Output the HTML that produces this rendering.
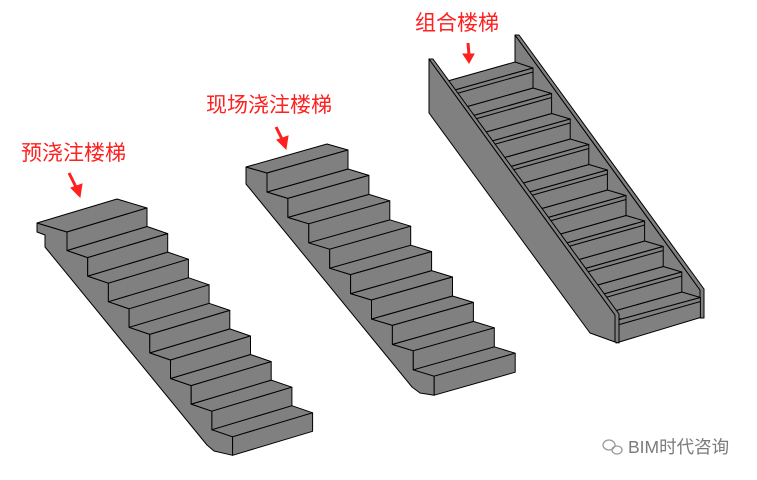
<!DOCTYPE html>
<html><head><meta charset="utf-8"><style>
html,body{margin:0;padding:0;background:#fff;width:757px;height:480px;overflow:hidden}
svg{display:block}
.lab{font-family:"Liberation Sans","Noto Sans CJK SC",sans-serif;fill:#ff2020;font-size:21px}
.wm{font-family:"Liberation Sans","Noto Sans CJK SC",sans-serif;fill:#7a7a7a;font-size:17.5px}
</style></head><body>
<svg id="s" width="757" height="480" viewBox="0 0 757 480" xmlns="http://www.w3.org/2000/svg">
<g id="g" fill="#808080" stroke="#000" stroke-width="1" stroke-linejoin="round"></g>
<text class="lab" x="21" y="160">预浇注楼梯</text>
<text class="lab" x="206" y="112">现场浇注楼梯</text>
<text class="lab" x="415" y="30">组合楼梯</text>
<g fill="#ff2020" stroke="#ff2020">
<line x1="69" y1="173" x2="77" y2="189" stroke-width="3"/><polygon points="71,188 82,184 80,197"/>
<line x1="276" y1="127" x2="283" y2="141" stroke-width="3"/><polygon points="277,140 288,136 286,149"/>
<line x1="468" y1="43" x2="469" y2="55" stroke-width="3"/><polygon points="463,54 474,54 469,63"/>
</g>
<g fill="none" stroke="#9a9a9a" stroke-width="1.3">
<ellipse cx="609" cy="445" rx="6" ry="5"/><ellipse cx="617" cy="450" rx="5" ry="4"/>
</g>
<text class="wm" x="628" y="453">BIM时代咨询</text>
</svg>
<script>
var g=document.getElementById('g');
function P(pts,fill){var e=document.createElementNS('http://www.w3.org/2000/svg','polygon');
e.setAttribute('points',pts.map(function(p){return p[0].toFixed(1)+','+p[1].toFixed(1)}).join(' '));
if(fill)e.setAttribute('fill',fill);g.appendChild(e);}
function L(a,b){var e=document.createElementNS('http://www.w3.org/2000/svg','line');
e.setAttribute('x1',a[0]);e.setAttribute('y1',a[1]);e.setAttribute('x2',b[0]);e.setAttribute('y2',b[1]);g.appendChild(e);}
function add(a,b){return [a[0]+b[0],a[1]+b[1]];}
function sub(a,b){return [a[0]-b[0],a[1]-b[1]];}
function stair(P0,d,h,w,n,side,dl,nosing){
 var T=[],B=[];
 for(var i=0;i<n;i++){T.push([P0[0]+i*d[0],P0[1]+i*(d[1]+h)]);B.push([T[i][0],T[i][1]+h]);}
 if(side){var s=side.slice();for(var i=n-1;i>=0;i--){s.push(B[i]);s.push(T[i]);}P(s);}
 var L0=sub(T[0],dl);P([L0,add(L0,w),add(T[0],w),T[0]]);
 for(var i=0;i<n;i++){
  if(i<n-1){var t=T[i+1];P([B[i],t,add(t,w),add(B[i],w)]);}
  if(i==n-1&&nosing){
   P([T[i],B[i],[616,343],[616,320.5]]);
   L(add(T[i],[0,4]),[616,325.5]);
  } else {
   P([T[i],B[i],add(B[i],w),add(T[i],w)]);
   if(nosing){var a=add(T[i],[0,4]);L(a,add(a,w));}
  }
 }
}
// stair 1
stair([67,232],[20.7,7.1],18.5,[80,-24],9,[[37,223],[37,232],[45,235],[45,247],[207,445],[214,451]],[30,9]);
// stair 2
stair([267,173],[20.9,6.4],19,[81,-23],9,[[246,167],[246,184],[412,387],[420,393]],[21,6]);
// stair 3 right stringer
P([[515,35],[700,290],[700,318],[515,63]]);
P([[515,35],[519,35],[704,289],[704,318],[700,318],[700,290]]);
stair([533,68],[18.6,5.5],20,[-78,22],10,null,[18,6],true);
// left stringer
P([[429,59],[615,315],[615,342],[590,333],[429,113]]);
P([[429,59],[433,59],[619,314],[619,343],[615,342],[615,315]]);
</script>
</body></html>
